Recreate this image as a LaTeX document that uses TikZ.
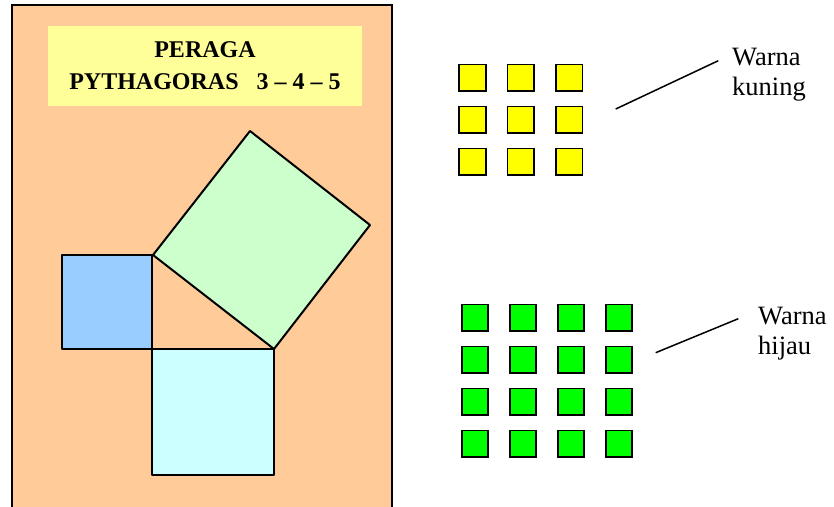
\documentclass[tikz,border=0pt]{standalone}
\usepackage{fontspec}
\setmainfont{Liberation Serif}
\definecolor{peach}{HTML}{FFCC99}
\definecolor{titleyel}{HTML}{FFFF99}
\definecolor{sqblue}{HTML}{99CCFF}
\definecolor{sqgreen}{HTML}{CCFFCC}
\definecolor{sqcyan}{HTML}{CCFFFF}
\definecolor{tileyel}{HTML}{FFFF00}
\definecolor{tilegreen}{HTML}{00FF00}
\begin{document}
\begin{tikzpicture}[x=1pt,y=-1pt,
  board/.style={draw=black,fill=peach,line width=2pt},
  bigsq/.style={draw=black,line width=2pt,line join=round},
  tile/.style={draw=black,line width=1.6pt,minimum size=26.5pt,inner sep=0pt,outer sep=0pt},
  lbl/.style={font=\fontsize{26.5}{30}\selectfont,align=left,inner sep=0pt,anchor=base west},
  lead/.style={draw=black,line width=1.5pt}]
\useasboundingbox (0,0) rectangle (834,506);
\clip (0,0) rectangle (834,506);
% board
\draw[board] (12,5) rectangle (392,530);
% title
\node[fill=titleyel,minimum width=314pt,minimum height=80pt,inner sep=0pt,align=center,
  font=\bfseries\fontsize{24}{32}\selectfont] (title) at (205,66)
  {PERAGA\\PYTHAGORAS\ \ \ 3 -- 4 -- 5};
% Pythagoras squares
\coordinate (A) at (153,255);
\coordinate (C) at (152,349);
\coordinate (B) at (274,349);
\coordinate (D) at (370,225);
\coordinate (E) at (250,131);
\draw[bigsq,fill=sqblue] (62,255) rectangle (C);
\draw[bigsq,fill=sqcyan] (C) rectangle (274,475);
\draw[bigsq,fill=sqgreen] (A) -- (B) -- (D) -- (E) -- cycle;
% yellow tiles
\foreach \i/\x in {1/472.5,2/520.8,3/569.2}
  \foreach \j/\y in {1/77.7,2/119.7,3/161.8}
    \node[tile,fill=tileyel] (y\i\j) at (\x,\y) {};
% green tiles
\foreach \i/\x in {1/475,2/523,3/571,4/619}
  \foreach \j/\y in {1/317.7,2/359.7,3/401.7,4/443.7}
    \node[tile,fill=tilegreen] (g\i\j) at (\x,\y) {};
% labels (base anchor = baseline of last line)
\node[lbl] (kuning) at (732,95) {Warna\\kuning};
\node[lbl] (hijau) at (758,354.5) {Warna\\hijau};
\coordinate (k1) at (615.7,109);
\coordinate (k2) at (718.3,60.7);
\coordinate (h1) at (655.7,352.7);
\coordinate (h2) at (738.3,318.7);
\draw[lead] (k1) -- (k2);
\draw[lead] (h1) -- (h2);
\end{tikzpicture}
\end{document}
